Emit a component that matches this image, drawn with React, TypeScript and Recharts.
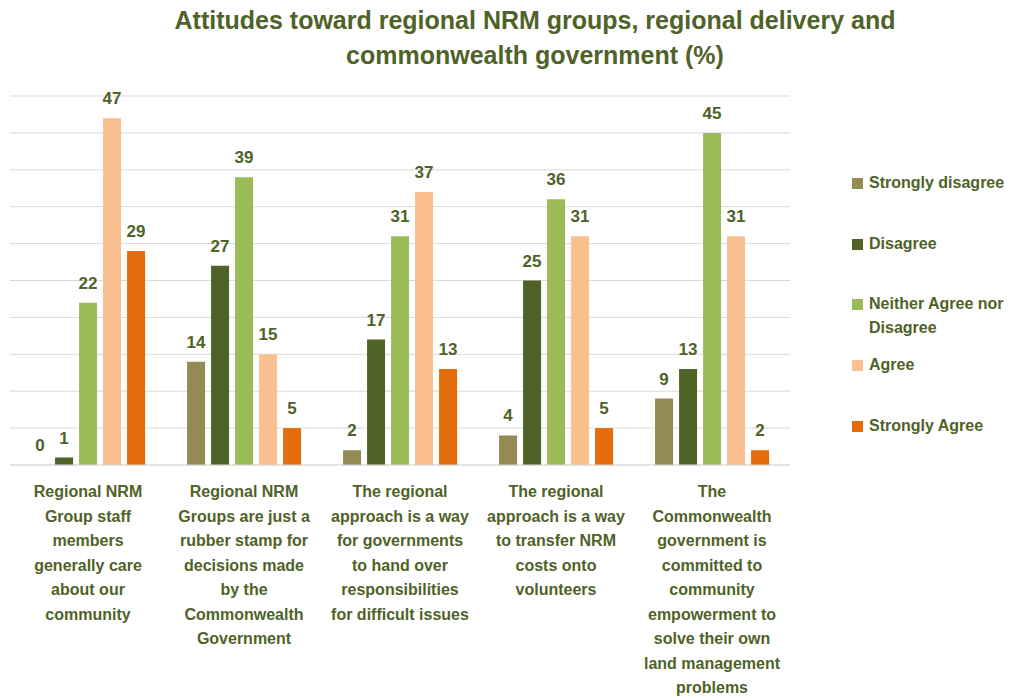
import React from "react";
import {
  BarChart,
  Bar,
  XAxis,
  YAxis,
  CartesianGrid,
  LabelList,
} from "recharts";

const categories = [
  "Regional NRM\nGroup staff\nmembers\ngenerally care\nabout our\ncommunity",
  "Regional NRM\nGroups are just a\nrubber stamp for\ndecisions made\nby the\nCommonwealth\nGovernment",
  "The regional\napproach is a way\nfor governments\nto hand over\nresponsibilities\nfor difficult issues",
  "The regional\napproach is a way\nto transfer NRM\ncosts onto\nvolunteers",
  "The\nCommonwealth\ngovernment is\ncommitted to\ncommunity\nempowerment to\nsolve their own\nland management\nproblems",
];

const stronglyDisagree = [0, 14, 2, 4, 9];
const disagree = [1, 27, 17, 25, 13];
const neither = [22, 39, 31, 36, 45];
const agree = [47, 15, 37, 31, 31];
const stronglyAgree = [29, 5, 13, 5, 2];

const yTicks = [0, 5, 10, 15, 20, 25, 30, 35, 40, 45, 50];

const series = [
  { key: "sd", name: "Strongly disagree", color: "#948A54" },
  { key: "d", name: "Disagree", color: "#4F6228" },
  { key: "n", name: "Neither Agree nor\nDisagree", color: "#9BBB59" },
  { key: "a", name: "Agree", color: "#FAC090" },
  { key: "sa", name: "Strongly Agree", color: "#E46C0A" },
];

const data = categories.map((c, i) => ({
  cat: c,
  sd: stronglyDisagree[i],
  d: disagree[i],
  n: neither[i],
  a: agree[i],
  sa: stronglyAgree[i],
}));

const FONT = '"Liberation Sans", Arial, sans-serif';
const TEXT = "#4F6228";

function CategoryTick(props: any) {
  const { x, y, payload } = props;
  const lines = String(payload.value).split("\n");
  return (
    <text
      x={x}
      y={y}
      textAnchor="middle"
      fill={TEXT}
      fontFamily={FONT}
      fontWeight="bold"
      fontSize={16}
    >
      {lines.map((l, i) => (
        <tspan key={i} x={x} dy={i === 0 ? 24 : 24.5}>
          {l}
        </tspan>
      ))}
    </text>
  );
}

function SideLegend() {
  return (
    <div
      style={{
        position: "absolute",
        left: 852,
        top: 171,
        fontFamily: FONT,
        fontWeight: "bold",
        fontSize: 16,
        color: TEXT,
      }}
    >
      {series.map((s) => (
        <div
          key={s.key}
          style={{
            display: "flex",
            alignItems: "flex-start",
            height: s.key === "n" ? 61 : 60.5,
            lineHeight: "24px",
          }}
        >
          <span
            style={{
              width: 11,
              height: 11,
              background: s.color,
              marginTop: 7,
              marginRight: 6,
              flex: "none",
            }}
          />
          <span style={{ whiteSpace: "pre" }}>{s.name}</span>
        </div>
      ))}
    </div>
  );
}

export default function App() {
  return (
    <div
      style={{
        position: "absolute",
        left: 0,
        top: 0,
        width: 1021,
        height: 700,
        background: "#fff",
        fontFamily: FONT,
      }}
    >
      <div
        style={{
          position: "absolute",
          left: 0,
          top: 3,
          width: 1070,
          textAlign: "center",
          color: TEXT,
          fontWeight: "bold",
          fontSize: 25,
          lineHeight: "35px",
        }}
      >
        Attitudes toward regional NRM groups, regional delivery and
        <br />
        commonwealth government (%)
      </div>
      <BarChart
        width={1021}
        height={700}
        data={data}
        margin={{ top: 96, left: 10, right: 231, bottom: 0 }}
        barCategoryGap="13.5%"
        barGap={6}
      >
        <CartesianGrid vertical={false} stroke="#D9D9D9" />
        <YAxis hide domain={[0, 50]} ticks={yTicks} />
        <XAxis
          dataKey="cat"
          axisLine={{ stroke: "#D9D9D9" }}
          tickLine={false}
          interval={0}
          height={235}
          tick={<CategoryTick />}
        />
        {series.map((s) => (
          <Bar
            key={s.key}
            dataKey={s.key}
            name={s.name}
            fill={s.color}
            minPointSize={0.01}
            isAnimationActive={false}
          >
            <LabelList
              dataKey={s.key}
              position="top"
              offset={14}
              fill={TEXT}
              fontFamily={FONT}
              fontWeight="bold"
              fontSize={17}
            />
          </Bar>
        ))}
      </BarChart>
      <SideLegend />
    </div>
  );
}
